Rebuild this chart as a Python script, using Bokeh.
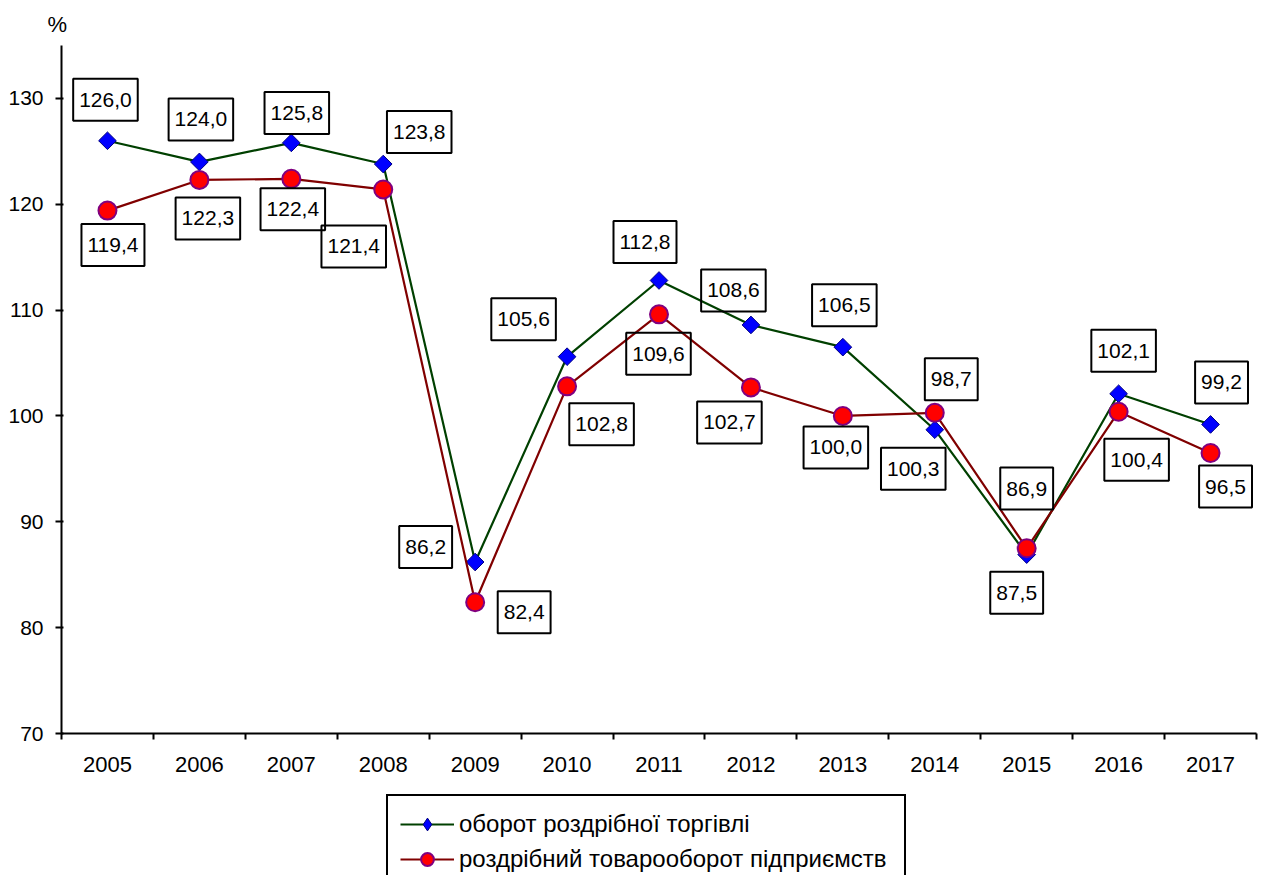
from bokeh.plotting import figure
from bokeh.models import (ColumnDataSource, FixedTicker, Legend, LegendItem, Range1d, Title)
from bokeh.layouts import column
from bokeh.core.properties import value
from bokeh.embed import file_html
from bokeh.resources import INLINE
import numpy as np

years = ["2005", "2006", "2007", "2008", "2009", "2010", "2011",
         "2012", "2013", "2014", "2015", "2016", "2017"]
retail_turnover = [126.0, 124.0, 125.8, 123.8, 86.2, 105.6, 112.8,
                   108.6, 106.5, 98.7, 86.9, 102.1, 99.2]
enterprise_turnover = [119.4, 122.3, 122.4, 121.4, 82.4, 102.8, 109.6,
                       102.7, 100.0, 100.3, 87.5, 100.4, 96.5]
y_ticks = [70, 80, 90, 100, 110, 120, 130]
series_names = ["оборот роздрібної торгівлі", "роздрібний товарооборот підприємств"]
unit_label = "%"

# label placement (screen px offsets from each point; dy positive = down)
green_dx = [-2, 1.5, 5.5, 36, -49.5, -43.5, -14, -17.5, 1.5, 16.5, 0, 5, 11]
green_dy = [-41, -42.5, -30, -32, -15, -37.5, -38.5, -34.5, -42, -50.5, -66, -43, -42]
red_dx = [5.5, 8.5, 1.5, -29.5, 49, 34.5, -0.5, -21.5, -7, -21.5, -10, 18, 15]
red_dy = [34.5, 38.5, 30.5, 57, 10, 38, 39.5, 35, 31.5, 56, 44.5, 48, 33.5]

FONT = "Liberation Sans"
FS = "21px"
GREEN = "#004000"
DARKRED = "#800000"
xs = [i + 0.5 for i in range(len(years))]

def fmt(v):
    return f"{v:.1f}".replace(".", ",")

src_g = ColumnDataSource(dict(x=xs, y=retail_turnover,
                              t=[fmt(v) for v in retail_turnover],
                              dx=green_dx, dy=green_dy))
src_r = ColumnDataSource(dict(x=xs, y=enterprise_turnover,
                              t=[fmt(v) for v in enterprise_turnover],
                              dx=red_dx, dy=red_dy))

p = figure(width=1262, height=790, output_backend="svg", toolbar_location=None,
           x_range=Range1d(0, len(years)), y_range=Range1d(70, 135),
           min_border_left=61, min_border_right=6, min_border_top=45,
           min_border_bottom=57)
p.outline_line_color = None
p.xgrid.visible = False
p.ygrid.visible = False
p.background_fill_color = "white"
p.border_fill_color = "white"

p.title = Title(text=unit_label, align="left", offset=-14, standoff=17,
                text_font=FONT, text_font_size="22px", text_font_style="normal",
                text_color="black")

# axes
p.xaxis.ticker = FixedTicker(ticks=xs, minor_ticks=list(range(len(years) + 1)))
p.xaxis.major_label_overrides = {x: y for x, y in zip(xs, years)}
p.xaxis.major_tick_out = 0
p.xaxis.major_tick_in = 0
p.xaxis.minor_tick_out = 6
p.xaxis.minor_tick_in = 0
p.xaxis.minor_tick_line_width = 2
p.xaxis.minor_tick_line_color = "black"
p.xaxis.axis_line_width = 2
p.xaxis.axis_line_color = "black"
p.xaxis.major_label_standoff = 17
p.xaxis.major_label_text_font = FONT
p.xaxis.major_label_text_font_size = "22px"
p.xaxis.major_label_text_color = "black"

p.yaxis.ticker = FixedTicker(ticks=y_ticks, minor_ticks=[])
p.yaxis.major_tick_out = 6
p.yaxis.major_tick_in = 2
p.yaxis.major_tick_line_width = 2
p.yaxis.axis_line_width = 2
p.yaxis.axis_line_color = "black"
p.yaxis.major_label_standoff = 12
p.yaxis.major_label_text_font = FONT
p.yaxis.major_label_text_font_size = FS
p.yaxis.major_label_text_color = "black"

# series
p.line("x", "y", source=src_g, line_color=GREEN, line_width=2.2)
p.scatter("x", "y", source=src_g, marker="square", angle=np.pi / 4, size=12.5,
          fill_color="#0000FF", line_color="#000080", line_width=1)
p.line("x", "y", source=src_r, line_color=DARKRED, line_width=2.2)
p.scatter("x", "y", source=src_r, marker="circle", size=18,
          fill_color="#FF0000", line_color="#800080", line_width=2)

for src in (src_g, src_r):
    p.text("x", "y", text="t", source=src, x_offset="dx", y_offset="dy",
           text_align="center", text_baseline="middle",
           text_font=value(FONT), text_font_size=FS, text_color="black",
           border_line_color="black", border_line_width=2,
           background_fill_color=None, padding=(6, 14))

# legend strip below the chart (its renderers hold no visible data)
p2 = figure(width=1262, height=85, output_backend="svg", toolbar_location=None,
            x_range=Range1d(0, 1), y_range=Range1d(0, 1),
            x_axis_location=None, y_axis_location=None,
            min_border=0, min_border_left=0, min_border_right=0,
            min_border_top=0, min_border_bottom=0)
p2.outline_line_color = None
p2.xgrid.visible = False
p2.ygrid.visible = False
empty = ColumnDataSource(dict(x=[float("nan")], y=[float("nan")]))
l1 = p2.line("x", "y", source=empty, line_color=GREEN, line_width=2.2)
m1 = p2.scatter("x", "y", source=empty, marker="diamond", size=12,
                fill_color="#0000FF", line_color="#000080", line_width=1)
l2 = p2.line("x", "y", source=empty, line_color=DARKRED, line_width=2.2)
m2 = p2.scatter("x", "y", source=empty, marker="circle", size=18,
                fill_color="#FF0000", line_color="#800080", line_width=2)

legend = Legend(items=[LegendItem(label=series_names[0], renderers=[l1, m1]),
                       LegendItem(label=series_names[1], renderers=[l2, m2])],
                location=(325, -14), orientation="vertical",
                glyph_width=54, glyph_height=32, label_height=32, spacing=3,
                padding=12, margin=0, label_standoff=5, label_width=433,
                label_text_font=FONT, label_text_font_size="24px",
                label_text_color="black", label_text_baseline="middle",
                border_line_color="black", border_line_width=2, border_line_alpha=1,
                background_fill_color="white", background_fill_alpha=1)
p2.add_layout(legend, "center")

layout = column(p, p2, spacing=0)
open("out.html", "w").write(file_html(layout, INLINE))
